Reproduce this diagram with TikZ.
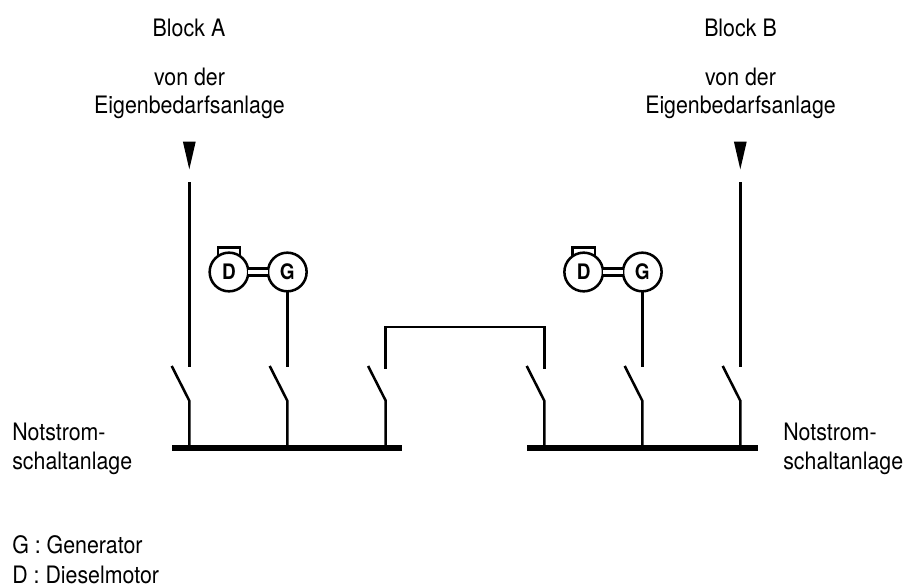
\documentclass[tikz,border=0pt]{standalone}
\usepackage{fontspec}
\setmainfont[FakeStretch=0.89]{TeX Gyre Heros}
\usetikzlibrary{calc}
\tikzset{
    wire/.style={line width=1.9pt},
    busbar/.style={line width=4.5pt},
    machine/.style={circle,draw,line width=1.9pt,minimum size=29pt,inner sep=0pt,outer sep=0pt,font=\fontsize{16}{16}\selectfont\bfseries},
    label/.style={inner sep=0pt,font=\fontsize{18}{21}\selectfont,align=center,anchor=base},
    leftlabel/.style={inner sep=0pt,font=\fontsize{18}{21.4}\selectfont,align=left,anchor=base west},
}
\newcommand{\createswitch}[3]{\coordinate (#1top) at (#2,#3); \coordinate (#1hinge) at (#2,400.7); \coordinate (#1blade) at ($(#2,400.7)+(-17.6,-34.7)$); \coordinate (#1foot) at (#2,448.3); \draw[wire] (#1blade) -- (#1hinge) -- (#1foot);}
\newcommand{\createset}[3]{\node[machine] (D#1) at (#2,272) {D}; \node[machine] (G#1) at (#3,272) {G}; \draw[line width=1.9pt,double,double distance=3.6pt] (D#1) -- (G#1); \draw[wire] ($(D#1)+(-11.2,-15.7)$) -- ++(0,-8.6) -- ++(22.4,0) -- ++(0,8.6);}
\begin{document}
\begin{tikzpicture}[x=0.75pt,y=-0.75pt]
    \useasboundingbox (0,0) rectangle (906,588);
    %switches
    \createswitch{SA}{189.3}{367.3}
    \createswitch{SB}{287.3}{367.3}
    \createswitch{SC}{385.7}{368.7}
    \createswitch{SD}{544.3}{368.7}
    \createswitch{SE}{642.3}{367.3}
    \createswitch{SF}{740.3}{367.3}
    %busbars
    \coordinate (BusAstart) at (172.3,448.3);
    \coordinate (BusAend) at (402.3,448.3);
    \coordinate (BusBstart) at (527.3,448.3);
    \coordinate (BusBend) at (757.7,448.3);
    \draw[busbar] (BusAstart) -- (BusAend);
    \draw[busbar] (BusBstart) -- (BusBend);
    %feeders
    \foreach \sw/\xpos in {SA/189.3, SF/740.3} {
        \coordinate (\sw feed) at (\xpos,182.3);
        \coordinate (\sw tip) at (\xpos,169.3);
        \draw[wire] (\sw feed) -- (\sw top);
        \fill ($(\sw tip)+(-6.4,-27.6)$) -- ++(12.8,0) -- (\sw tip) -- cycle;}
    %diesel sets
    \createset{A}{229}{287.3}
    \createset{B}{583.7}{642.3}
    \draw[wire] (GA) -- (SBtop);
    \draw[wire] (GB) -- (SEtop);
    %tie
    \draw[wire] (SCtop) |- (544.3,327) -- (SDtop);
    %labels
    \node[label] (BlockA) at (189,37) {Block A};
    \node[label] (BlockB) at (740.5,37) {Block B};
    \node[label] (FromA) at (189.5,114) {von der\\Eigenbedarfsanlage};
    \node[label] (FromB) at (740.5,114) {von der\\Eigenbedarfsanlage};
    \node[leftlabel] (PanelA) at (12,469.5) {Notstrom-\\schaltanlage};
    \node[leftlabel] (PanelB) at (783,469.5) {Notstrom-\\schaltanlage};
    \node[leftlabel,font=\fontsize{18}{22.5}\selectfont] (Legend) at (12,583) {G : Generator\\D : Dieselmotor};
\end{tikzpicture}
\end{document}
